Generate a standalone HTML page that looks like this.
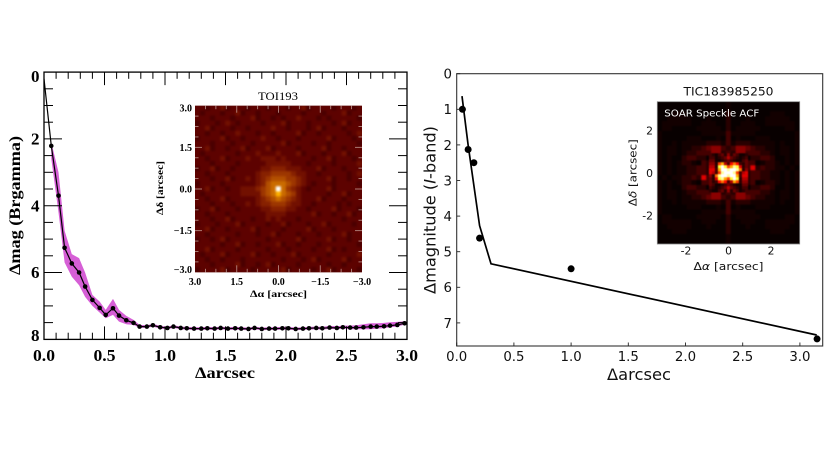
<!DOCTYPE html>
<html>
<head>
<meta charset="utf-8">
<style>
html,body{margin:0;padding:0;background:#fff;}
svg{display:block;}
.ls{font-family:"Liberation Serif",serif;font-weight:bold;fill:#000;}
.dv{font-family:"DejaVu Sans",sans-serif;fill:#111;}
</style>
</head>
<body>
<svg id="fig" width="830" height="467" viewBox="0 0 830 467" xmlns="http://www.w3.org/2000/svg">
  <defs>
    <filter id="soft1" x="-5%" y="-5%" width="110%" height="110%" color-interpolation-filters="sRGB"><feGaussianBlur stdDeviation="1.1"/></filter>
    <filter id="soft2" x="-5%" y="-5%" width="110%" height="110%" color-interpolation-filters="sRGB"><feGaussianBlur stdDeviation="0.8"/></filter>
    <filter id="soft3" x="-5%" y="-5%" width="110%" height="110%" color-interpolation-filters="sRGB"><feGaussianBlur stdDeviation="0.5"/></filter>
    <clipPath id="clipLeftImg"><rect x="195" y="105.7" width="167" height="166.6"/></clipPath>
    <clipPath id="clipRightImg"><rect x="657.3" y="101.7" width="142.4" height="142.3"/></clipPath>
  </defs>
  <rect x="0" y="0" width="830" height="467" fill="#fff"/>
  <g id="leftPlot"></g>
  <g id="leftInset"></g>
  <g id="rightPlot"></g>
  <g id="rightInset"></g>

  <text class="ls" x="225" y="378" font-size="15.5" text-anchor="middle" textLength="60" lengthAdjust="spacingAndGlyphs">Δarcsec</text>
  <text class="ls" transform="translate(20,205.5) rotate(-90)" font-size="15.5" text-anchor="middle" textLength="139" lengthAdjust="spacingAndGlyphs">Δmag (Brgamma)</text>
  <text class="ls" x="278" y="100" font-size="11.5" style="font-weight:normal" text-anchor="middle" textLength="40" lengthAdjust="spacingAndGlyphs">TOI193</text>
  <text class="ls" x="278.5" y="297" font-size="9.5" text-anchor="middle" textLength="57" lengthAdjust="spacingAndGlyphs">Δα [arcsec]</text>
  <text class="ls" transform="translate(163,188) rotate(-90)" font-size="9.5" text-anchor="middle" textLength="54" lengthAdjust="spacingAndGlyphs">Δδ [arcsec]</text>

  <text class="dv" x="639" y="380" font-size="16" text-anchor="middle" textLength="64" lengthAdjust="spacingAndGlyphs">Δarcsec</text>
  <text class="dv" transform="translate(435.7,210) rotate(-90)" font-size="16" text-anchor="middle" textLength="168" lengthAdjust="spacingAndGlyphs">Δmagnitude (<tspan font-style="italic">I</tspan>-band)</text>
  <text class="dv" x="728.5" y="95.7" font-size="11.7" text-anchor="middle" textLength="90" lengthAdjust="spacingAndGlyphs">TIC183985250</text>
  <text class="dv" x="728.5" y="270" font-size="11" text-anchor="middle" textLength="70" lengthAdjust="spacingAndGlyphs">Δ<tspan font-style="italic">α</tspan> [arcsec]</text>
  <text class="dv" transform="translate(636.7,172.7) rotate(-90)" font-size="11" text-anchor="middle" textLength="67" lengthAdjust="spacingAndGlyphs">Δ<tspan font-style="italic">δ</tspan> [arcsec]</text>
</svg>
<script>
// Left contrast curve
const leftSep = [0.06,0.12,0.17,0.23,0.29,0.34,0.40,0.46,0.51,0.57,0.62,0.68,0.74,0.79,0.85,0.90,0.96,1.02,1.07,1.13,1.18,1.24,1.30,1.35,1.41,1.46,1.52,1.58,1.63,1.69,1.74,1.80,1.86,1.91,1.97,2.02,2.08,2.14,2.19,2.25,2.30,2.36,2.42,2.47,2.53,2.58,2.64,2.70,2.75,2.81,2.86,2.92,2.98];
const leftMag = [2.21,3.70,5.26,5.73,6.00,6.42,6.82,7.06,7.27,7.07,7.29,7.43,7.51,7.62,7.62,7.58,7.64,7.66,7.62,7.66,7.67,7.68,7.68,7.67,7.68,7.66,7.68,7.67,7.68,7.69,7.66,7.69,7.68,7.68,7.67,7.67,7.69,7.68,7.67,7.66,7.67,7.65,7.66,7.64,7.65,7.65,7.64,7.62,7.62,7.61,7.59,7.57,7.52];
const leftUpper = [2.10,3.00,4.75,5.45,5.57,6.00,6.67,6.87,7.12,6.79,7.12,7.30,7.42,7.57,7.58,7.54,7.60,7.62,7.58,7.62,7.63,7.64,7.64,7.63,7.64,7.62,7.64,7.63,7.64,7.65,7.62,7.65,7.64,7.64,7.63,7.63,7.65,7.64,7.63,7.62,7.63,7.60,7.61,7.59,7.59,7.58,7.55,7.52,7.52,7.51,7.49,7.48,7.46];
const leftLower = [2.60,4.20,5.70,6.13,6.38,6.73,7.00,7.20,7.37,7.27,7.47,7.55,7.57,7.66,7.66,7.62,7.68,7.70,7.66,7.70,7.71,7.72,7.72,7.71,7.72,7.70,7.72,7.71,7.72,7.73,7.70,7.73,7.72,7.72,7.71,7.71,7.73,7.72,7.71,7.70,7.71,7.69,7.70,7.68,7.70,7.70,7.70,7.70,7.68,7.67,7.64,7.62,7.56];
const leftXTicks = ["0.0","0.5","1.0","1.5","2.0","2.5","3.0"];
const leftYTicks = ["0","2","4","6","8"];

// Right contrast curve
const rightCurveSep = [0.046,0.10,0.20,0.30,3.147];
const rightCurveMag = [0.63,2.00,4.27,5.34,7.34];
const rightPointSep = [0.05,0.10,0.15,0.20,1.00,3.15];
const rightPointMag = [1.00,2.13,2.50,4.62,5.48,7.45];
const rightXTicks = ["0.0","0.5","1.0","1.5","2.0","2.5","3.0"];
const rightYTicks = ["0","1","2","3","4","5","6","7"];

// Inset tick labels
const leftInsetTicks = ["3.0","1.5","0.0","−1.5","−3.0"];
const rightInsetTicks = ["-2","0","2"];

// Left inset image, intensity 0-F per cell
const leftImageRows = [
"332334233323332333233423333233323",
"323332334233233323333233323334233",
"333233323334233232334333232333332",
"233323432333323334233323333234233",
"334233323323333433233323423332333",
"332332334333233233334233233333234",
"233334233233343323332333334233323",
"333233323332333334233332332333332",
"334233233423334233332333342332333",
"323333332333433343334233323334233",
"332334233343344434333332334233323",
"333233332333334444433323333233334",
"233423323333344555444333423332333",
"332333233333455666654433233333234",
"333233423343456777665433334233233",
"233332333333457888765432333233332",
"334233233444567"+"8F86543233342333"+"3",
"323333333444467"+"8A8764333332334"+"233",
"332334233333456787654333423332333",
"333233323343455666544332333323233",
"233423332333344555443323333423332",
"332333233333334444333334233233423",
"333233423332334343332333333332333",
"233323334233332334233323342333323",
"334233233334233332333342333233333",
"332333332333233423332333233334233",
"233234233333332333334233334233233",
"333332334233233342332333233333332",
"334233332333332333233332334232333",
"323334233334233233342333332333334",
"332332333233333332333234233334233",
"333233334233234233332333332332333",
"233334233332333334233332334233332"
];

// Right inset ACF, rows above and through the centre (the ACF is point-symmetric)
const acfRows = [
"00000000000000100000000000000",
"00000000000000100000000000000",
"00011100000000200000000111000",
"00111110001000200010001111100",
"01111110011100200111001111110",
"01100000111110201111100000110",
"10000000011111311111000000001",
"10000011100010301000111000001",
"10010111112221312221111101001",
"10110112234553235543221101101",
"10110122333552325533322101101",
"10100233220256774202233200101",
"10101221032ACB8ADC33012210101",
"101011223327DDEFEB37232211010",
"101011223327CFFFC723322110101"
];

// Finer central part of the ACF, rows -6 to 0 of a 13 x 13 grid
const acfCoreRows = [
"3213425243112",
"3312346432123",
"4411234321134",
"5529B638A8324",
"662DFD9BED724",
"773BFFEFFEA25",
"7639EFFFE9367"
];

const NS = "http://www.w3.org/2000/svg";
function mk(tag, parent, attrs, text){
  const el = document.createElementNS(NS, tag);
  for (const k in attrs) el.setAttribute(k, attrs[k]);
  if (text !== undefined) el.textContent = text;
  parent.appendChild(el);
  return el;
}
function clamp(v){ return Math.max(0, Math.min(1, v)); }
function rgb(r,g,b){ return "rgb("+Math.round(r*255)+","+Math.round(g*255)+","+Math.round(b*255)+")"; }
function hotColor(v){
  const t = Math.pow(v/15,1.5);
  return rgb(clamp(t/.375+.03), clamp((t-.375)/.375), clamp((t-.75)/.25));
}

// Axis functions
const lx = v => 44 + v * 121;
const ly = v => 72.1 + v * 33.4;
const rx = v => 456.7 + v * 114.4;
const ry = v => 73.7 + v * 35.6;

// ---- Left plot ----
const lp = document.getElementById("leftPlot");
let bandPts = [];
leftSep.forEach((s,i)=>bandPts.push(lx(s).toFixed(1)+","+ly(leftUpper[i]).toFixed(1)));
for (let i=leftSep.length-1;i>=0;i--) bandPts.push(lx(leftSep[i]).toFixed(1)+","+ly(leftLower[i]).toFixed(1));
const band = mk("polygon", lp, {points:bandPts.join(" "), fill:"#d65fd6"});


let linePts = [lx(0).toFixed(1)+","+ly(0.2).toFixed(1)];
leftSep.forEach((s,i)=>linePts.push(lx(s).toFixed(1)+","+ly(leftMag[i]).toFixed(1)));
const leftLine = mk("polyline", lp, {points:linePts.join(" "), fill:"none", stroke:"#000", "stroke-width":1.2});


leftSep.forEach((s,i)=>{
  const c = mk("circle", lp, {cx:lx(s), cy:ly(leftMag[i]), r:2.3, fill:"#000"});
  
  
});
const leftFrame = mk("rect", lp, {x:44, y:72.1, width:363, height:267.3, fill:"none", stroke:"#000", "stroke-width":1.3});


for (let k=1;k<30;k++){
  const major = k%5===0, len = major?13:6.7, x = lx(k/10);
  const t1 = mk("line", lp, {x1:x,x2:x,y1:339.4,y2:339.4-len,stroke:"#000","stroke-width":1});
  
  
  const t2 = mk("line", lp, {x1:x,x2:x,y1:72.1,y2:72.1+len,stroke:"#000","stroke-width":1});
  
  
}
for (let k=1;k<16;k++){
  const major = k%4===0, len = major?18:9, y = ly(k/2);
  const t1 = mk("line", lp, {x1:44,x2:44+len,y1:y,y2:y,stroke:"#000","stroke-width":1});
  
  
  const t2 = mk("line", lp, {x1:407,x2:407-len,y1:y,y2:y,stroke:"#000","stroke-width":1});
  
  
}
leftXTicks.forEach(l=>{
  const t = mk("text", lp, {class:"ls", x:lx(parseFloat(l)), y:361, "font-size":17, "text-anchor":"middle", textLength:22, lengthAdjust:"spacingAndGlyphs"}, l);
  
  
});
leftYTicks.forEach(l=>{
  const v = parseFloat(l);
  const shift = v===0 ? 4 : (v===8 ? -4 : 0);
  const t = mk("text", lp, {class:"ls", x:39.5, y:ly(v)+shift+5.7, "font-size":17, "text-anchor":"end"}, l);
  
  
});

// ---- Left inset ----
const li = document.getElementById("leftInset");
const liBg = mk("rect", li, {x:195,y:105.7,width:167,height:166.6,fill:"#5e0804"});


const liClip = mk("g", li, {"clip-path":"url(#clipLeftImg)"});


const liCells = mk("g", liClip, {filter:"url(#soft1)"});


leftImageRows.forEach((row,r)=>{
  for (let c=0;c<33;c++){
    const v = parseInt(row[c]||"3",16), t = v/15;
    const cell = mk("rect", liCells, {x:195+c*167/33-0.2, y:105.7+r*166.6/33-0.2, width:167/33+0.4, height:166.6/33+0.4,
      fill:rgb(clamp(.15+t+.4*t*t), clamp(1.7*t*t-.06), clamp((t-.7)/.3+.02))});
    
    
  }
});
const lixf = i => 195 + i*167/4;
const liyf = i => 105.7 + i*166.6/4;
for (let k=0;k<=16;k++){
  const major = k%4===0, len = major?7:3.5;
  const x = 195 + k*167/16, y = 105.7 + k*166.6/16;
  if (k>0 && k<16){
    [[x,105.7,x,105.7+len],[x,272.3,x,272.3-len],[195,y,195+len,y],[362,y,362-len,y]].forEach(s=>{
      const t = mk("line", li, {x1:s[0],y1:s[1],x2:s[2],y2:s[3],stroke:"#c9a9a0","stroke-width":0.9,"stroke-opacity":.8});
      
      
    });
  }
}
leftInsetTicks.forEach((l,i)=>{
  const t = mk("text", li, {class:"ls", x:lixf(i), y:285, "font-size":10, "text-anchor":"middle"}, l);
  
  
  const shift = i===0 ? 2.5 : (i===4 ? -2.5 : 0);
  const u = mk("text", li, {class:"ls", x:192, y:liyf(i)+shift+3.4, "font-size":10, "text-anchor":"end"}, l);
  
  
});

// ---- Right plot ----
const rp = document.getElementById("rightPlot");
const rightLine = mk("polyline", rp, {points:rightCurveSep.map((s,i)=>rx(s).toFixed(1)+","+ry(rightCurveMag[i]).toFixed(1)).join(" "), fill:"none", stroke:"#000", "stroke-width":1.7});


rightPointSep.forEach((s,i)=>{
  const c = mk("circle", rp, {cx:rx(s), cy:ry(rightPointMag[i]), r:3.5, fill:"#000"});
  
  
});
const rightFrame = mk("rect", rp, {x:456.7, y:73.7, width:366, height:272.3, fill:"none", stroke:"#333", "stroke-width":1.1});


rightXTicks.forEach(l=>{
  const v = parseFloat(l), x = rx(v);
  const m = mk("line", rp, {x1:x,x2:x,y1:346,y2:342.5,stroke:"#222","stroke-width":0.9});
  
  
  const t = mk("text", rp, {class:"dv", x:x, y:360.8, "font-size":13.3, "text-anchor":"middle"}, l);
  
  
});
rightYTicks.forEach(l=>{
  const v = parseFloat(l), y = ry(v);
  const m = mk("line", rp, {x1:456.7,x2:460.2,y1:y,y2:y,stroke:"#222","stroke-width":0.9});
  
  
  const t = mk("text", rp, {class:"dv", x:452, y:y+4.9, "font-size":13.3, "text-anchor":"end"}, l);
  
  
});

// ---- Right inset ----
const ri = document.getElementById("rightInset");
const riBg = mk("rect", ri, {x:657.3,y:101.7,width:142.4,height:142.3,fill:"#0a0000"});


const riClip = mk("g", ri, {"clip-path":"url(#clipRightImg)"});


const riCells = mk("g", riClip, {filter:"url(#soft2)"});


const acfAll = acfRows.concat(acfRows.slice(0,14).reverse().map(r=>r.split("").reverse().join("")));
const acfCell = 142.4/29;
acfAll.forEach((row,r)=>{
  for (let c=0;c<29;c++){
    const v = parseInt(row[c]||"0",16);
    const cell = mk("rect", riCells, {x:657.3+c*acfCell-0.2, y:101.7+r*acfCell-0.2, width:acfCell+0.4, height:acfCell+0.4,
      fill:hotColor(v)});
    
    
  }
});
const riCore = mk("g", riClip, {filter:"url(#soft3)"});


const coreAll = acfCoreRows.concat(acfCoreRows.slice(0,6).reverse().map(r=>r.split("").reverse().join("")));
coreAll.forEach((row,r)=>{
  for (let c=0;c<13;c++){
    const v = parseInt(row[c]||"0",16);
    const cell = mk("rect", riCore, {x:728.5+(c-6.5)*3-0.1, y:172.85+(r-6.5)*3-0.1, width:3.2, height:3.2, fill:hotColor(v)});
    
    
  }
});
const riFrame = mk("rect", ri, {x:657.3,y:101.7,width:142.4,height:142.3,fill:"none",stroke:"#8a8a8a","stroke-width":0.8});


const riLabel = mk("text", ri, {class:"dv", x:664.3, y:116.7, "font-size":10, textLength:95, lengthAdjust:"spacingAndGlyphs", style:"fill:#fff"}, "SOAR Speckle ACF");


rightInsetTicks.forEach(l=>{
  const v = parseFloat(l);
  const t = mk("text", ri, {class:"dv", x:728.5+v*21.25, y:254.3, "font-size":10.8, "text-anchor":"middle"}, l);
  
  
  const u = mk("text", ri, {class:"dv", x:653, y:173-v*21.25+4, "font-size":10.8, "text-anchor":"end"}, l);
  
  
});
</script>
</body>
</html>
